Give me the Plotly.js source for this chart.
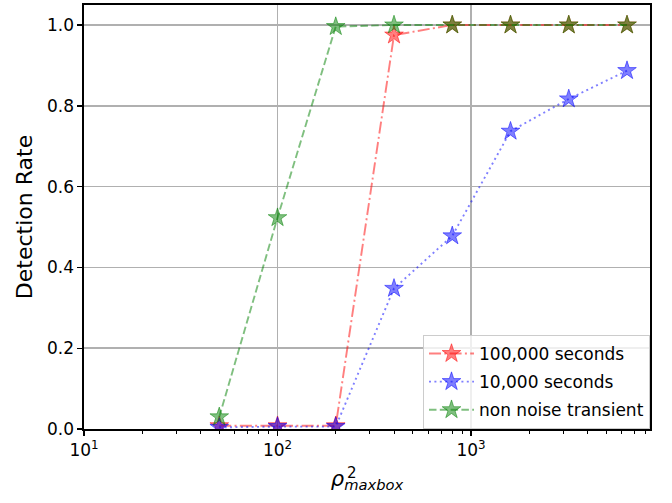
<!DOCTYPE html>
<html>
<head>
<meta charset="utf-8">
<script src="https://cdn.plot.ly/plotly-3.0.1.min.js"></script>
<style>body{margin:0;padding:0;background:#fff;} #chart{width:672px;height:503px;}</style>
</head>
<body>
<div id="chart"></div>
<script>
// Data
const rho2 = [50, 100, 200, 400, 800, 1600, 3200, 6400];
const rate100k = [0.008, 0.008, 0.008, 0.975, 1.0, 1.0, 1.0, 1.0];
const rate10k = [0.004, 0.006, 0.006, 0.348, 0.478, 0.737, 0.817, 0.887];
const rateNonNoise = [0.03, 0.523, 0.996, 1.0, 1.0, 1.0, 1.0, 1.0];
const seriesNames = ["100,000 seconds", "10,000 seconds", "non noise transient"];
const xTickVals = [10, 100, 1000];
const xTickText = ["10<sup>1</sup>", "10<sup>2</sup>", "10<sup>3</sup>"];

const FONT = "DejaVu Sans";

function mk(y, name, color, dash, group) {
  return {
    x: rho2, y: y, name: name, type: "scatter", mode: "lines+markers",
    legendgroup: group,
    line: {color: color.replace("A", "0.5"), width: 1.9, dash: dash},
    marker: {symbol: "star", size: 14, color: color.replace("A", "0.5"),
             line: {color: color.replace("A", "0.5"), width: 1}}
  };
}

const traces = [
  mk(rate100k, seriesNames[0], "rgba(255,0,0,A)", "12px,3.3px,2px,3.3px", "a"),
  mk(rate10k, seriesNames[1], "rgba(0,0,255,A)", "2px,3.4px", "b"),
  mk(rateNonNoise, seriesNames[2], "rgba(0,128,0,A)", "7.5px,3.3px", "c")
];

const layout = {
  width: 672, height: 503,
  margin: {l: 84, r: 22, t: 5, b: 74},
  paper_bgcolor: "#fff", plot_bgcolor: "#fff",
  font: {family: FONT, size: 17, color: "#000"},
  showlegend: true,
  legend: {
    x: 1, xanchor: "right", y: 0, yanchor: "bottom",
    bgcolor: "rgba(255,255,255,0.8)", bordercolor: "#cccccc", borderwidth: 1,
    font: {family: FONT, size: 17, color: "#000"},
    traceorder: "grouped", tracegroupgap: 3, itemwidth: 45
  },
  xaxis: {
    type: "log", range: [1, 3.925],
    tickvals: xTickVals, ticktext: xTickText,
    ticks: "outside", ticklen: 5, tickwidth: 1.4, tickcolor: "#000",
    showgrid: true, gridcolor: "#b0b0b0", gridwidth: 1.6,
    showline: true, linecolor: "#000", linewidth: 1.6, mirror: true,
    zeroline: false,
    tickfont: {family: FONT, size: 17, color: "#000"},
    minor: {ticks: "outside", ticklen: 3, tickwidth: 1, tickcolor: "#000", showgrid: false, dtick: "D1"},
    title: {text: "<i>ρ</i><sub><i>maxbox</i></sub>", font: {family: FONT, size: 21, color: "#000"}, standoff: 12}
  },
  yaxis: {
    range: [0, 1.0495], dtick: 0.2, tick0: 0, tickformat: ".1f",
    ticks: "outside", ticklen: 5, tickwidth: 1.4, tickcolor: "#000",
    showgrid: true, gridcolor: "#b0b0b0", gridwidth: 1.6,
    showline: true, linecolor: "#000", linewidth: 1.6, mirror: true,
    zeroline: false,
    tickfont: {family: FONT, size: 17, color: "#000"},
    title: {text: "Detection Rate", font: {family: FONT, size: 22, color: "#000"}, standoff: 8}
  },
  annotations: [
    {xref: "paper", yref: "paper", x: 0.461, y: -0.103, xanchor: "left", yanchor: "middle",
     text: "2", showarrow: false, font: {family: FONT, size: 15, color: "#000"}}
  ]
};

Plotly.newPlot("chart", traces, layout, {displayModeBar: false, staticPlot: true});
</script>
</body>
</html>
